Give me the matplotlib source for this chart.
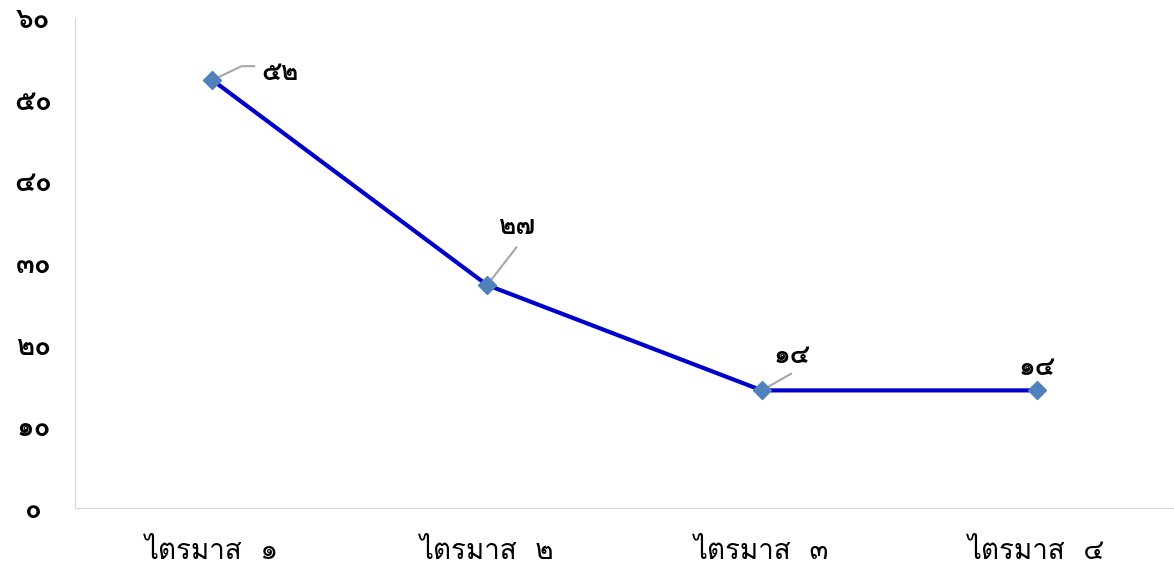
import matplotlib
matplotlib.use("Agg")
import matplotlib.pyplot as plt
import matplotlib.transforms as mtransforms
from matplotlib import font_manager
from matplotlib.ft2font import FT2Font

# ข้อมูล
quarters = ["ไตรมาส ๑", "ไตรมาส ๒", "ไตรมาส ๓", "ไตรมาส ๔"]
values = [52.4, 27.3, 14.4, 14.4]
value_labels = ["๕๒", "๒๗", "๑๔", "๑๔"]
yticks = [0, 10, 20, 30, 40, 50, 60]
ytick_labels = ["๐", "๑๐", "๒๐", "๓๐", "๔๐", "๕๐", "๖๐"]

# หา font ที่มีอักษรไทย
thai_family = None
for f in font_manager.fontManager.ttflist:
    try:
        if 0x0E44 in FT2Font(f.fname).get_charmap():
            thai_family = f.name
            break
    except Exception:
        pass
families = [thai_family, "DejaVu Sans"] if thai_family else ["DejaVu Sans"]
plt.rcParams["font.family"] = families

fig = plt.figure(figsize=(11.74, 5.70), dpi=100)
ax = fig.add_axes([75 / 1174, 62 / 570, 1099 / 1174, 490 / 570])

x = list(range(len(quarters)))
ax.plot(x, values, color="#0000CC", linewidth=3, zorder=2)
ax.plot(x, values, linestyle="none", marker="D", markersize=9,
        color="#4F81BD", markeredgecolor="#4F81BD", zorder=3)

# ป้ายค่า (offset เป็น point)
offsets = [(49, 5), (21, 42), (22, 25), (0, 16)]
for i, (v, lab) in enumerate(zip(values, value_labels)):
    dx, dy = offsets[i]
    ax.annotate(lab, xy=(i, v), xytext=(dx, dy), textcoords="offset points",
                fontsize=19, fontweight="bold", ha="center", va="center",
                zorder=4)

# เส้นชี้ (point)
leaders = {0: [(0, 0), (21, 10), (30, 10)],
           1: [(0, 0), (21, 27)],
           2: [(0, 0), (21, 12)]}
for i, pts in leaders.items():
    tr = fig.dpi_scale_trans + mtransforms.ScaledTranslation(i, values[i], ax.transData)
    ax.plot([p[0] / 72 for p in pts], [p[1] / 72 for p in pts], transform=tr,
            color="#A6A6A6", lw=1.5, zorder=2.5, clip_on=False)

ax.set_xlim(-0.5, 3.5)
ax.set_ylim(0, 60)
ax.set_yticks(yticks)
ax.set_yticklabels(ytick_labels, fontsize=20, fontweight="bold")
ax.set_xticks(x)
ax.set_xticklabels([q.replace(" ", "  ") for q in quarters], fontsize=20)
ax.tick_params(axis="both", length=0)
ax.tick_params(axis="y", pad=30)
ax.tick_params(axis="x", pad=22)
for lab in ax.get_yticklabels():
    lab.set_horizontalalignment("center")

for s in ["top", "right"]:
    ax.spines[s].set_visible(False)
for s in ["left", "bottom"]:
    ax.spines[s].set_color("#D9D9D9")

fig.savefig("out.png", dpi=100)
